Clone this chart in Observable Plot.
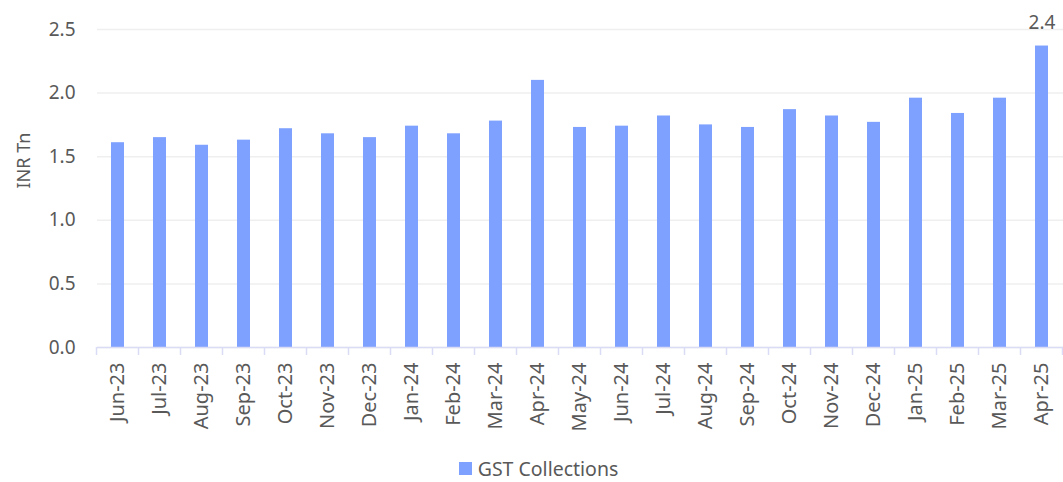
<!DOCTYPE html>
<html>
<head>
<meta charset="utf-8">
<script src="https://cdn.jsdelivr.net/npm/d3@7"></script>
<script src="https://cdn.jsdelivr.net/npm/@observablehq/plot@0.6"></script>
<style>
  html, body { margin: 0; padding: 0; background: #fff; }
  body { width: 1063px; font-family: "Noto Sans", sans-serif; }
  #chart svg { display: block; }
  #legend { display: flex; justify-content: center; align-items: center; gap: 6px; color: #595959; font-size: 19.5px; line-height: 25px; height: 25px; margin-top: 16px; padding-left: 14px; }
  #legend .sw { width: 13px; height: 13px; background: #7ea1ff; display: inline-block; }
</style>
</head>
<body>
<div id="chart"></div>
<div id="legend"><span class="sw"></span><span>GST Collections</span></div>
<script>
const months = ["Jun-23","Jul-23","Aug-23","Sep-23","Oct-23","Nov-23","Dec-23","Jan-24","Feb-24","Mar-24","Apr-24","May-24","Jun-24","Jul-24","Aug-24","Sep-24","Oct-24","Nov-24","Dec-24","Jan-25","Feb-25","Mar-25","Apr-25"];
const gst = [1.61,1.65,1.59,1.63,1.72,1.68,1.65,1.74,1.68,1.78,2.10,1.73,1.74,1.82,1.75,1.73,1.87,1.82,1.77,1.96,1.84,1.96,2.37];
const yTicks = [0, 0.5, 1.0, 1.5, 2.0, 2.5];
const labelled = ["Apr-25"];

const data = months.map((m, i) => ({month: m, value: gst[i]}));

// separators between categories on the x axis
function separators(index, scales, values, dims) {
  const x = scales.x, y = scales.y;
  const step = x.step ? x.step() : (dims.width - dims.marginLeft - dims.marginRight) / months.length;
  const bw = x.bandwidth ? x.bandwidth() : 0;
  const y0 = y(0);
  const g = d3.create("svg:g").attr("stroke", "#dadcf6").attr("stroke-width", 1.5);
  const edges = months.map(m => x(m) + bw / 2 - step / 2);
  edges.push(x(months[months.length - 1]) + bw / 2 + step / 2);
  for (const e of edges) {
    g.append("line").attr("x1", e).attr("x2", e).attr("y1", y0).attr("y2", y0 + 8);
  }
  return g.node();
}

const chart = Plot.plot({
  width: 1063,
  height: 440,
  marginLeft: 97,
  marginRight: 0,
  marginTop: 29,
  marginBottom: 93,
  style: {fontFamily: "'Noto Sans', sans-serif", fontSize: "18px", color: "#595959", background: "#fff"},
  x: {domain: months, paddingInner: 0.68, paddingOuter: 0.34, label: null},
  y: {domain: [0, 2.5], label: null},
  marks: [
    Plot.gridY(yTicks, {stroke: "#efefef", strokeWidth: 1.5, strokeOpacity: 1}),
    Plot.axisY(yTicks, {tickSize: 0, tickPadding: 22, tickFormat: d => d.toFixed(1), fill: "#595959", fontSize: 19}),
    Plot.axisX({tickSize: 0, tickPadding: 15, tickRotate: -90, fill: "#595959", fontSize: 20}),
    Plot.text(["INR Tn"], {frameAnchor: "left", text: d => d, rotate: -90, dx: -73, fill: "#595959", fontSize: 18}),
    Plot.barY(data, {x: "month", y: "value", fill: "#7ea1ff"}),
    Plot.ruleY([0], {stroke: "#dadcf6", strokeWidth: 1.5}),
    separators,
    Plot.text(data.filter(d => labelled.includes(d.month)), {x: "month", y: "value", text: d => d.value.toFixed(1), lineAnchor: "bottom", dy: -17, fill: "#595959", fontSize: 19})
  ]
});
document.getElementById("chart").appendChild(chart);
</script>
</body>
</html>
